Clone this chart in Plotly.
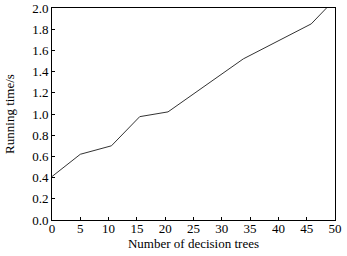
import plotly.graph_objects as go

trees = [0, 5, 10.5, 15.5, 20.5, 33.8, 45.8, 48.5]
running_time = [0.41, 0.62, 0.70, 0.975, 1.02, 1.52, 1.85, 2.0]

x_ticks = [0, 5, 10, 15, 20, 25, 30, 35, 40, 45, 50]
y_ticks = [0.0, 0.2, 0.4, 0.6, 0.8, 1.0, 1.2, 1.4, 1.6, 1.8, 2.0]

fig = go.Figure()
fig.add_trace(go.Scatter(x=trees, y=running_time, mode="lines",
                         line=dict(color="#333333", width=1), showlegend=False))

axis_common = dict(showgrid=False, zeroline=False, showline=True, linecolor="black",
                   linewidth=1, mirror=True, ticks="inside", ticklen=3,
                   tickcolor="black", automargin=False,
                   tickfont=dict(size=13, color="black"))
fig.update_xaxes(range=[0, 50], tickvals=x_ticks, ticktext=[str(v) for v in x_ticks],
                 ticklabelstandoff=-4,
                 title=dict(text="Number of decision trees", font=dict(size=13, color="black"), standoff=0),
                 **axis_common)
fig.update_yaxes(range=[0, 2.0], tickvals=y_ticks, ticktext=[f"{v:.1f}" for v in y_ticks],
                 title=dict(text="Running time/s", font=dict(size=13, color="black"), standoff=14),
                 **axis_common)
fig.update_layout(width=347, height=256, margin=dict(l=52, r=12, t=8, b=36, autoexpand=False),
                  plot_bgcolor="white", paper_bgcolor="white",
                  font=dict(family="Liberation Serif", size=13, color="black"))
fig.write_html("out.html", config={"displayModeBar": False},
               post_script="document.body.style.margin='0';document.body.style.overflow='hidden';")
